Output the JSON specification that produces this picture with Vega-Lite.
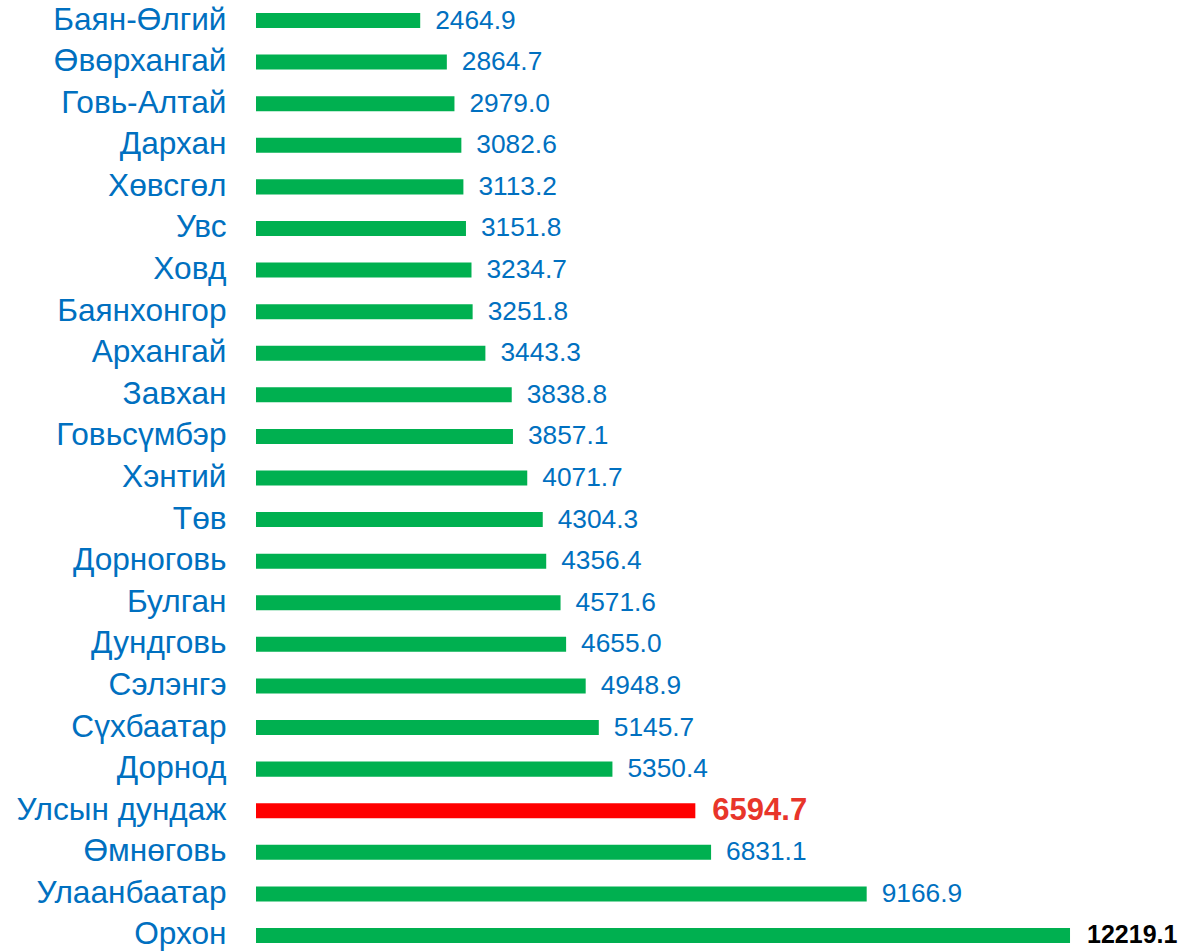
{
  "$schema": "https://vega.github.io/schema/vega-lite/v6.json",
  "autosize": {"type": "none"},
  "padding": {"left": 256, "top": 0, "right": 0, "bottom": 0},
  "width": 926,
  "height": 951,
  "background": "white",
  "config": {"view": {"stroke": null}, "font": "Liberation Sans"},
  "data": {
    "values": [
      {"region": "Баян-Өлгий", "value": 2464.9},
      {"region": "Өвөрхангай", "value": 2864.7},
      {"region": "Говь-Алтай", "value": 2979.0},
      {"region": "Дархан", "value": 3082.6},
      {"region": "Хөвсгөл", "value": 3113.2},
      {"region": "Увс", "value": 3151.8},
      {"region": "Ховд", "value": 3234.7},
      {"region": "Баянхонгор", "value": 3251.8},
      {"region": "Архангай", "value": 3443.3},
      {"region": "Завхан", "value": 3838.8},
      {"region": "Говьсүмбэр", "value": 3857.1},
      {"region": "Хэнтий", "value": 4071.7},
      {"region": "Төв", "value": 4304.3},
      {"region": "Дорноговь", "value": 4356.4},
      {"region": "Булган", "value": 4571.6},
      {"region": "Дундговь", "value": 4655.0},
      {"region": "Сэлэнгэ", "value": 4948.9},
      {"region": "Сүхбаатар", "value": 5145.7},
      {"region": "Дорнод", "value": 5350.4},
      {"region": "Улсын дундаж", "value": 6594.7},
      {"region": "Өмнөговь", "value": 6831.1},
      {"region": "Улаанбаатар", "value": 9166.9},
      {"region": "Орхон", "value": 12219.1}
    ]
  },
  "encoding": {
    "y": {
      "field": "region",
      "type": "nominal",
      "sort": null,
      "scale": {"range": [0, 956], "paddingInner": 0.639, "paddingOuter": 0.3126},
      "axis": {
        "title": null,
        "ticks": false,
        "domain": false,
        "labelFontSize": 31.6,
        "labelFont": "Liberation Sans",
        "labelColor": "#0070C0",
        "labelPadding": 30,
        "labelLimit": 300
      }
    },
    "x": {
      "field": "value",
      "type": "quantitative",
      "scale": {"domain": [0, 13900], "nice": false},
      "axis": null
    }
  },
  "layer": [
    {
      "mark": {"type": "bar"},
      "encoding": {
        "color": {
          "condition": {"test": "datum.region === 'Улсын дундаж'", "value": "#FF0000"},
          "value": "#00B050"
        }
      }
    },
    {
      "transform": [{"filter": "datum.region !== 'Улсын дундаж' && datum.region !== 'Орхон'"}],
      "mark": {"type": "text", "align": "left", "baseline": "middle", "dx": 15, "fontSize": 26.3, "color": "#0070C0", "font": "Liberation Sans"},
      "encoding": {"text": {"field": "value", "type": "quantitative", "format": ".1f"}}
    },
    {
      "transform": [{"filter": "datum.region === 'Улсын дундаж'"}],
      "mark": {"type": "text", "align": "left", "baseline": "middle", "dx": 17, "fontSize": 31, "fontWeight": "bold", "color": "#E8352A", "font": "Liberation Sans"},
      "encoding": {"text": {"field": "value", "type": "quantitative", "format": ".1f"}}
    },
    {
      "transform": [{"filter": "datum.region === 'Орхон'"}],
      "mark": {"type": "text", "align": "left", "baseline": "middle", "dx": 17, "fontSize": 25, "fontWeight": "bold", "color": "#000000", "font": "Liberation Sans"},
      "encoding": {"text": {"field": "value", "type": "quantitative", "format": ".1f"}}
    }
  ]
}
